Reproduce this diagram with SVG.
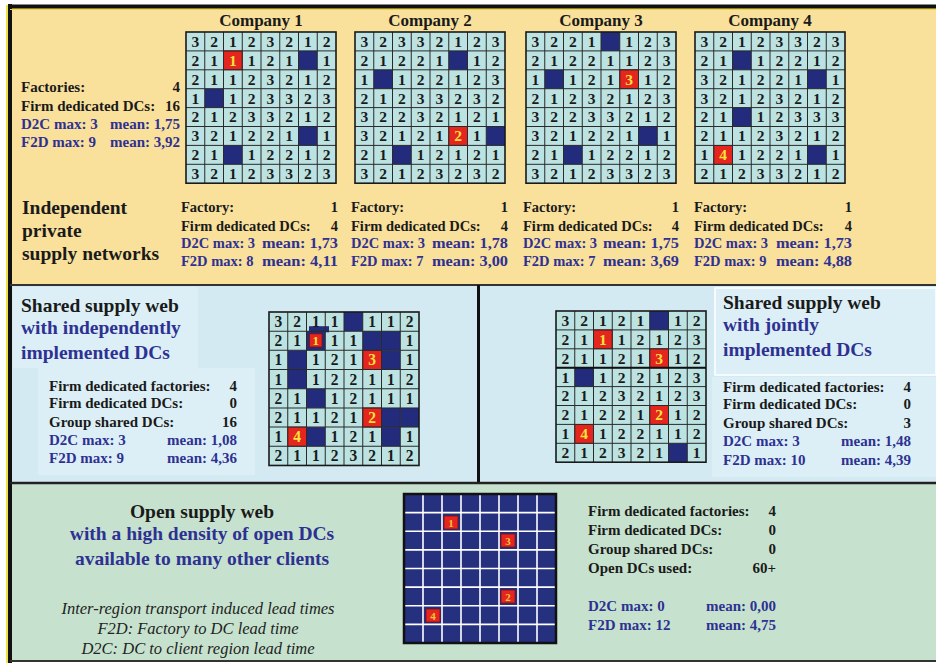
<svg xmlns="http://www.w3.org/2000/svg" xmlns:xlink="http://www.w3.org/1999/xlink" width="936" height="663" viewBox="0 0 936 663">
<style>
text{font-family:"Liberation Serif","Times New Roman",serif;font-weight:bold;fill:#1a1a1a}
.s15{font-size:15px}
.s14{font-size:14.5px}
.ttl{font-size:19.5px}
.co{font-size:17px;text-anchor:middle}
.blue{fill:#2E3192}
.e{text-anchor:end}
.m{text-anchor:middle}
.d{font-size:15.5px;text-anchor:middle}
.r{font-size:15.5px;text-anchor:middle;fill:#F8E23A}
.it{font-size:16.5px;font-style:italic;font-weight:normal;text-anchor:middle;fill:#222}
.cell{fill:#BCE2E2}
.nv{fill:#232C7C}
.rd{fill:#E4261F;stroke:#7a1010;stroke-width:0.8}
.gl{fill:none;stroke:#2a2a2a;stroke-width:1}
.gb{fill:none;stroke:#1a1a1a;stroke-width:1.6}
</style>
<defs>
<path id="gl" d="M18.75 0V151.2M37.5 0V151.2M56.25 0V151.2M75 0V151.2M93.75 0V151.2M112.5 0V151.2M131.25 0V151.2M0 18.9H150M0 37.8H150M0 56.7H150M0 75.6H150M0 94.5H150M0 113.4H150M0 132.3H150"/>
<rect id="bg" class="cell" width="150" height="151.2"/>
<rect id="nv" class="nv" width="18.75" height="18.9"/>
<rect id="rd" class="rd" width="18.75" height="18.9"/>
</defs>

<!-- backgrounds -->
<rect x="0" y="0" width="936" height="663" fill="#ffffff"/>
<rect x="10" y="7" width="926" height="278" fill="#F9E09B"/>
<rect x="10" y="286" width="468" height="196" fill="#D4EAF2"/>
<rect x="479" y="286" width="457" height="196" fill="#D4EAF2"/>
<rect x="10" y="484" width="926" height="176" fill="#C6E2CE"/>
<rect x="13" y="287" width="185" height="81" fill="#DCEFF6"/>
<rect x="38" y="368" width="217" height="107" fill="#DCEFF6"/>
<rect x="715" y="288" width="221" height="87" fill="#DCEFF6" stroke="#ffffff" stroke-width="1.5"/>
<rect x="712" y="377" width="224" height="100" fill="#DCEFF6"/>
<!-- frame lines -->
<path d="M7 5V663" stroke="#E8D800" stroke-width="1.5"/>
<path d="M10 4V663" stroke="#111" stroke-width="4"/>
<path d="M8 6.5H936" stroke="#111" stroke-width="4"/>
<path d="M10 9.5H936" stroke="#F0DA30" stroke-width="1"/>
<path d="M10 285H936" stroke="#333" stroke-width="2"/>
<path d="M478.5 285V483" stroke="#111" stroke-width="3"/>
<path d="M10 483H936" stroke="#222" stroke-width="2.5"/>
<path d="M10 661H936" stroke="#333" stroke-width="2"/>

<g id="connectors"/>

<!-- Company 1 -->
<g id="company1">
<text class="co" x="261" y="26">Company 1</text>
<g transform="translate(186,32)">
<use xlink:href="#bg"/>
<use xlink:href="#nv" x="112.5" y="18.9"/><use xlink:href="#nv" x="18.75" y="56.7"/><use xlink:href="#nv" x="112.5" y="94.5"/><use xlink:href="#nv" x="37.5" y="113.4"/>
<use xlink:href="#rd" x="37.5" y="18.9"/>
<use xlink:href="#gl" class="gl"/><rect class="gb" width="150" height="151.2"/>
<text class="d" x="9.4 28.1 46.9 65.6 84.4 103.1 121.9 140.6" y="14.8">32123212</text>
<text class="d" x="9.4 28.1" y="33.7">21</text><text class="d" x="65.6 84.4 103.1 140.6" y="33.7">1211</text>
<text class="d" x="9.4 28.1 46.9 65.6 84.4 103.1 121.9 140.6" y="52.6">21123212</text>
<text class="d" x="9.4 46.9 65.6 84.4 103.1 121.9 140.6" y="71.5">1123323</text>
<text class="d" x="9.4 28.1 46.9 65.6 84.4 103.1 121.9 140.6" y="90.4">21233212</text>
<text class="d" x="9.4 28.1 46.9 65.6 84.4 103.1 140.6" y="109.3">3212211</text>
<text class="d" x="9.4 28.1 65.6 84.4 103.1 121.9 140.6" y="128.2">2112212</text>
<text class="d" x="9.4 28.1 46.9 65.6 84.4 103.1 121.9 140.6" y="147.1">32123323</text>
<text class="r" x="46.9" y="33.7">1</text>
</g>
</g>

<!-- Company 2 -->
<g id="company2">
<text class="co" x="430" y="26">Company 2</text>
<g transform="translate(355,32)">
<use xlink:href="#bg"/>
<use xlink:href="#nv" x="93.75" y="18.9"/><use xlink:href="#nv" x="18.75" y="37.8"/><use xlink:href="#nv" x="131.25" y="94.5"/><use xlink:href="#nv" x="37.5" y="113.4"/>
<use xlink:href="#rd" x="93.75" y="94.5"/>
<use xlink:href="#gl" class="gl"/><rect class="gb" width="150" height="151.2"/>
<text class="d" x="9.4 28.1 46.9 65.6 84.4 103.1 121.9 140.6" y="14.8">32332123</text>
<text class="d" x="9.4 28.1 46.9 65.6 84.4 121.9 140.6" y="33.7">2122112</text>
<text class="d" x="9.4 46.9 65.6 84.4 103.1 121.9 140.6" y="52.6">1122123</text>
<text class="d" x="9.4 28.1 46.9 65.6 84.4 103.1 121.9 140.6" y="71.5">21233232</text>
<text class="d" x="9.4 28.1 46.9 65.6 84.4 103.1 121.9 140.6" y="90.4">32232121</text>
<text class="d" x="9.4 28.1 46.9 65.6 84.4" y="109.3">32121</text><text class="d" x="121.9" y="109.3">1</text>
<text class="d" x="9.4 28.1 65.6 84.4 103.1 121.9 140.6" y="128.2">2112121</text>
<text class="d" x="9.4 28.1 46.9 65.6 84.4 103.1 121.9 140.6" y="147.1">32123232</text>
<text class="r" x="103.1" y="109.3">2</text>
</g>
</g>

<!-- Company 3 -->
<g id="company3">
<text class="co" x="601" y="26">Company 3</text>
<g transform="translate(526,32)">
<use xlink:href="#bg"/>
<use xlink:href="#nv" x="75" y="0"/><use xlink:href="#nv" x="18.75" y="37.8"/><use xlink:href="#nv" x="112.5" y="94.5"/><use xlink:href="#nv" x="37.5" y="113.4"/>
<use xlink:href="#rd" x="93.75" y="37.8"/>
<use xlink:href="#gl" class="gl"/><rect class="gb" width="150" height="151.2"/>
<text class="d" x="9.4 28.1 46.9 65.6 103.1 121.9 140.6" y="14.8">3221123</text>
<text class="d" x="9.4 28.1 46.9 65.6 84.4 103.1 121.9 140.6" y="33.7">21221123</text>
<text class="d" x="9.4 46.9 65.6 84.4" y="52.6">1121</text><text class="d" x="121.9 140.6" y="52.6">12</text>
<text class="d" x="9.4 28.1 46.9 65.6 84.4 103.1 121.9 140.6" y="71.5">21232123</text>
<text class="d" x="9.4 28.1 46.9 65.6 84.4 103.1 121.9 140.6" y="90.4">32233212</text>
<text class="d" x="9.4 28.1 46.9 65.6 84.4 103.1 140.6" y="109.3">3212211</text>
<text class="d" x="9.4 28.1 65.6 84.4 103.1 121.9 140.6" y="128.2">2112212</text>
<text class="d" x="9.4 28.1 46.9 65.6 84.4 103.1 121.9 140.6" y="147.1">32123323</text>
<text class="r" x="103.1" y="52.6">3</text>
</g>
</g>

<!-- Company 4 -->
<g id="company4">
<text class="co" x="770" y="26">Company 4</text>
<g transform="translate(695,32)">
<use xlink:href="#bg"/>
<use xlink:href="#nv" x="37.5" y="18.9"/><use xlink:href="#nv" x="112.5" y="37.8"/><use xlink:href="#nv" x="37.5" y="75.6"/><use xlink:href="#nv" x="112.5" y="113.4"/>
<use xlink:href="#rd" x="18.75" y="113.4"/>
<use xlink:href="#gl" class="gl"/><rect class="gb" width="150" height="151.2"/>
<text class="d" x="9.4 28.1 46.9 65.6 84.4 103.1 121.9 140.6" y="14.8">32123323</text>
<text class="d" x="9.4 28.1 65.6 84.4 103.1 121.9 140.6" y="33.7">2112212</text>
<text class="d" x="9.4 28.1 46.9 65.6 84.4 103.1 140.6" y="52.6">3212211</text>
<text class="d" x="9.4 28.1 46.9 65.6 84.4 103.1 121.9 140.6" y="71.5">32123212</text>
<text class="d" x="9.4 28.1 65.6 84.4 103.1 121.9 140.6" y="90.4">2112333</text>
<text class="d" x="9.4 28.1 46.9 65.6 84.4 103.1 121.9 140.6" y="109.3">21123212</text>
<text class="d" x="9.4" y="128.2">1</text><text class="d" x="46.9 65.6 84.4 103.1 140.6" y="128.2">12211</text>
<text class="d" x="9.4 28.1 46.9 65.6 84.4 103.1 121.9 140.6" y="147.1">21233212</text>
<text class="r" x="28.1" y="128.2">4</text>
</g>
</g>

<!-- Top-left summary -->
<g id="summary-top">
<text class="s15" x="21" y="92">Factories:</text><text class="s15 e" x="180" y="92">4</text>
<text class="s15" x="21" y="111">Firm dedicated DCs:</text><text class="s15 e" x="180" y="111">16</text>
<text class="s15 blue" x="21" y="129">D2C max: 3</text><text class="s15 blue e" x="180" y="129">mean: 1,75</text>
<text class="s15 blue" x="21" y="147">F2D max: 9</text><text class="s15 blue e" x="180" y="147">mean: 3,92</text>
</g>

<!-- Independent private supply networks -->
<g id="independent-label">
<text class="ttl" x="22" y="214">Independent</text>
<text class="ttl" x="22" y="237">private</text>
<text class="ttl" x="22" y="260">supply networks</text>
</g>
<g id="stats-company1">
<text class="s14" x="181" y="212">Factory:</text><text class="s14 e" x="338" y="212">1</text>
<text class="s14" x="181" y="231">Firm dedicated DCs:</text><text class="s14 e" x="338" y="231">4</text>
<text class="s14 blue" x="181" y="248">D2C max: 3</text><text class="s14 blue e" x="338" y="248" textLength="76" lengthAdjust="spacingAndGlyphs">mean: 1,73</text>
<text class="s14 blue" x="181" y="266">F2D max: 8</text><text class="s14 blue e" x="338" y="266" textLength="76" lengthAdjust="spacingAndGlyphs">mean: 4,11</text>
</g>
<g id="stats-company2">
<text class="s14" x="351" y="212">Factory:</text><text class="s14 e" x="508" y="212">1</text>
<text class="s14" x="351" y="231">Firm dedicated DCs:</text><text class="s14 e" x="508" y="231">4</text>
<text class="s14 blue" x="351" y="248">D2C max: 3</text><text class="s14 blue e" x="508" y="248" textLength="76" lengthAdjust="spacingAndGlyphs">mean: 1,78</text>
<text class="s14 blue" x="351" y="266">F2D max: 7</text><text class="s14 blue e" x="508" y="266" textLength="76" lengthAdjust="spacingAndGlyphs">mean: 3,00</text>
</g>
<g id="stats-company3">
<text class="s14" x="523" y="212">Factory:</text><text class="s14 e" x="679" y="212">1</text>
<text class="s14" x="523" y="231">Firm dedicated DCs:</text><text class="s14 e" x="679" y="231">4</text>
<text class="s14 blue" x="523" y="248">D2C max: 3</text><text class="s14 blue e" x="679" y="248" textLength="76" lengthAdjust="spacingAndGlyphs">mean: 1,75</text>
<text class="s14 blue" x="523" y="266">F2D max: 7</text><text class="s14 blue e" x="679" y="266" textLength="76" lengthAdjust="spacingAndGlyphs">mean: 3,69</text>
</g>
<g id="stats-company4">
<text class="s14" x="694" y="212">Factory:</text><text class="s14 e" x="852" y="212">1</text>
<text class="s14" x="694" y="231">Firm dedicated DCs:</text><text class="s14 e" x="852" y="231">4</text>
<text class="s14 blue" x="694" y="248">D2C max: 3</text><text class="s14 blue e" x="852" y="248" textLength="76" lengthAdjust="spacingAndGlyphs">mean: 1,73</text>
<text class="s14 blue" x="694" y="266">F2D max: 9</text><text class="s14 blue e" x="852" y="266" textLength="76" lengthAdjust="spacingAndGlyphs">mean: 4,88</text>
</g>

<!-- Shared supply web, independently implemented DCs -->
<g id="shared-independent">
<text class="ttl" x="21" y="312">Shared supply web</text>
<text class="ttl blue" x="21" y="334">with independently</text>
<text class="ttl blue" x="21" y="359">implemented DCs</text>
<text class="s15" x="49" y="391">Firm dedicated factories:</text><text class="s15 e" x="237" y="391">4</text>
<text class="s15" x="49" y="408">Firm dedicated DCs:</text><text class="s15 e" x="237" y="408">0</text>
<text class="s15" x="49" y="427">Group shared DCs:</text><text class="s15 e" x="237" y="427">16</text>
<text class="s15 blue" x="49" y="445">D2C max: 3</text><text class="s15 blue e" x="237" y="445">mean: 1,08</text>
<text class="s15 blue" x="49" y="463">F2D max: 9</text><text class="s15 blue e" x="237" y="463">mean: 4,36</text>
<g transform="translate(269,312) scale(1,1.015)">
<use xlink:href="#bg"/>
<use xlink:href="#nv" x="75" y="0"/><use xlink:href="#nv" x="37.5" y="18.9"/><use xlink:href="#nv" x="93.75" y="18.9"/><use xlink:href="#nv" x="112.5" y="18.9"/>
<use xlink:href="#nv" x="18.75" y="37.8"/><use xlink:href="#nv" x="112.5" y="37.8"/><use xlink:href="#nv" x="18.75" y="56.7"/><use xlink:href="#nv" x="37.5" y="75.6"/>
<use xlink:href="#nv" x="112.5" y="94.5"/><use xlink:href="#nv" x="131.25" y="94.5"/><use xlink:href="#nv" x="37.5" y="113.4"/><use xlink:href="#nv" x="112.5" y="113.4"/>
<rect class="nv" x="40" y="14" width="20" height="6"/>
<use xlink:href="#rd" x="93.75" y="37.8"/><use xlink:href="#rd" x="93.75" y="94.5"/><use xlink:href="#rd" x="18.75" y="113.4"/>
<use xlink:href="#gl" class="gl"/><rect class="gb" width="150" height="151.2"/>
<rect class="rd" x="40.5" y="21.5" width="12.5" height="13"/>
<text class="d" x="9.4 28.1 46.9 65.6 103.1 121.9 140.6" y="14.8">3211112</text>
<text class="d" x="9.4 28.1" y="33.7">21</text><text class="d" x="65.6 84.4 140.6" y="33.7">111</text>
<text class="d" x="9.4 46.9 65.6 84.4" y="52.6">1121</text><text class="d" x="140.6" y="52.6">1</text>
<text class="d" x="9.4 46.9 65.6 84.4 103.1 121.9 140.6" y="71.5">1122112</text>
<text class="d" x="9.4 28.1 65.6 84.4 103.1 121.9 140.6" y="90.4">2112111</text>
<text class="d" x="9.4 28.1 46.9 65.6 84.4" y="109.3">21121</text>
<text class="d" x="9.4" y="128.2">1</text><text class="d" x="65.6 84.4 103.1 140.6" y="128.2">1211</text>
<text class="d" x="9.4 28.1 46.9 65.6 84.4 103.1 121.9 140.6" y="147.1">21123212</text>
<text class="r" x="46.8" y="32.5" style="font-size:13px">1</text>
<text class="r" x="103.1" y="52.6">3</text>
<text class="r" x="103.1" y="109.3">2</text>
<text class="r" x="28.1" y="128.2">4</text>
</g>
</g>

<!-- Shared supply web, jointly implemented DCs -->
<g id="shared-jointly">
<text class="ttl" x="723" y="309">Shared supply web</text>
<text class="ttl blue" x="723" y="331">with jointly</text>
<text class="ttl blue" x="723" y="356">implemented DCs</text>
<text class="s15" x="723" y="392">Firm dedicated factories:</text><text class="s15 e" x="911" y="392">4</text>
<text class="s15" x="723" y="409">Firm dedicated DCs:</text><text class="s15 e" x="911" y="409">0</text>
<text class="s15" x="723" y="428">Group shared DCs:</text><text class="s15 e" x="911" y="428">3</text>
<text class="s15 blue" x="723" y="446">D2C max: 3</text><text class="s15 blue e" x="911" y="446">mean: 1,48</text>
<text class="s15 blue" x="723" y="465">F2D max: 10</text><text class="s15 blue e" x="911" y="465">mean: 4,39</text>
<g transform="translate(556,311)">
<use xlink:href="#bg"/>
<use xlink:href="#nv" x="93.75" y="0"/><use xlink:href="#nv" x="18.75" y="56.7"/><use xlink:href="#nv" x="112.5" y="132.3"/>
<use xlink:href="#rd" x="37.5" y="18.9"/><use xlink:href="#rd" x="93.75" y="37.8"/><use xlink:href="#rd" x="93.75" y="94.5"/><use xlink:href="#rd" x="18.75" y="113.4"/>
<use xlink:href="#gl" class="gl"/><rect class="gb" width="150" height="151.2"/>
<path d="M0 56.7H150" stroke="#111" stroke-width="2"/>
<text class="d" x="9.4 28.1 46.9 65.6 84.4 121.9 140.6" y="14.8">3212112</text>
<text class="d" x="9.4 28.1" y="33.7">21</text><text class="d" x="65.6 84.4 103.1 121.9 140.6" y="33.7">12123</text>
<text class="d" x="9.4 28.1 46.9 65.6 84.4" y="52.6">21121</text><text class="d" x="121.9 140.6" y="52.6">12</text>
<text class="d" x="9.4 46.9 65.6 84.4 103.1 121.9 140.6" y="71.5">1122123</text>
<text class="d" x="9.4 28.1 46.9 65.6 84.4 103.1 121.9 140.6" y="90.4">21232123</text>
<text class="d" x="9.4 28.1 46.9 65.6 84.4" y="109.3">21221</text><text class="d" x="121.9 140.6" y="109.3">12</text>
<text class="d" x="9.4" y="128.2">1</text><text class="d" x="46.9 65.6 84.4 103.1 121.9 140.6" y="128.2">122112</text>
<text class="d" x="9.4 28.1 46.9 65.6 84.4 103.1 140.6" y="147.1">2123211</text>
<text class="r" x="46.9" y="33.7">1</text>
<text class="r" x="103.1" y="52.6">3</text>
<text class="r" x="103.1" y="109.3">2</text>
<text class="r" x="28.1" y="128.2">4</text>
</g>
</g>

<!-- Open supply web -->
<g id="open-web">
<text class="ttl m" x="202" y="518">Open supply web</text>
<text class="ttl blue m" x="202" y="540">with a high density of open DCs</text>
<text class="ttl blue m" x="202" y="565">available to many other clients</text>
<text class="it" x="198" y="614">Inter-region transport induced lead times</text>
<text class="it" x="198" y="634">F2D: Factory to DC lead time</text>
<text class="it" x="198" y="654">D2C: DC to client region lead time</text>
<text class="s15" x="588" y="516">Firm dedicated factories:</text><text class="s15 e" x="776" y="516">4</text>
<text class="s15" x="588" y="535">Firm dedicated DCs:</text><text class="s15 e" x="776" y="535">0</text>
<text class="s15" x="588" y="554">Group shared DCs:</text><text class="s15 e" x="776" y="554">0</text>
<text class="s15" x="588" y="573">Open DCs used:</text><text class="s15 e" x="776" y="573">60+</text>
<text class="s15 blue" x="588" y="611">D2C max: 0</text><text class="s15 blue e" x="776" y="611">mean: 0,00</text>
<text class="s15 blue" x="588" y="630">F2D max: 12</text><text class="s15 blue e" x="776" y="630">mean: 4,75</text>
<rect x="404" y="494" width="152" height="149" fill="#25307F"/>
<path d="M423 494V643M442 494V643M461 494V643M480 494V643M499 494V643M518 494V643M537 494V643M404 512.6H556M404 531.3H556M404 549.9H556M404 568.5H556M404 587.1H556M404 605.8H556M404 624.4H556" stroke="#ffffff" stroke-width="1.6"/>
<rect x="404" y="494" width="152" height="149" fill="none" stroke="#111" stroke-width="2.5"/>
<rect class="rd" x="444" y="516" width="14" height="13" stroke="#222" stroke-width="1.2"/>
<rect class="rd" x="501" y="534" width="14" height="13" stroke="#222" stroke-width="1.2"/>
<rect class="rd" x="501" y="590" width="14" height="13" stroke="#222" stroke-width="1.2"/>
<rect class="rd" x="426" y="609" width="14" height="13" stroke="#222" stroke-width="1.2"/>
<text class="r" x="451" y="527" style="font-size:11px;fill:#F2C83A">1</text>
<text class="r" x="508" y="545" style="font-size:11px;fill:#F2C83A">3</text>
<text class="r" x="508" y="601" style="font-size:11px;fill:#F2C83A">2</text>
<text class="r" x="433" y="620" style="font-size:11px;fill:#F2C83A">4</text>
</g>
</svg>
